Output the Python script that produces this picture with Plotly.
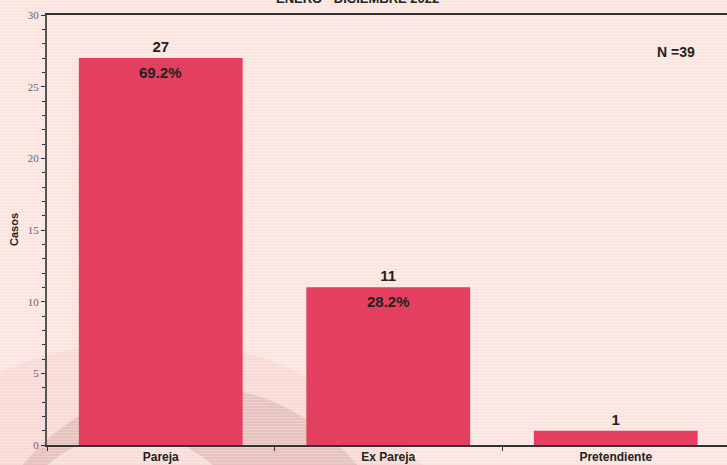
import plotly.graph_objects as go

categories = ["Pareja", "Ex Pareja", "Pretendiente"]
casos = [27, 11, 1]
porcentajes = ["69.2%", "28.2%", ""]
total_n = 39
titulo = "ENERO - DICIEMBRE 2022"

W, H = 727, 465
L, R, T, B = 47, 0, 15, 20
PW, PH = W - L - R, H - T - B


def px(x):
    return (x - L) / PW


def py(y):
    return (H - B - y) / PH


fig = go.Figure()

shapes = []


def circle(cx, cy, r, color):
    return dict(type="circle", xref="paper", yref="paper",
                x0=px(cx - r), x1=px(cx + r), y0=py(cy + r), y1=py(cy - r),
                fillcolor=color, line=dict(width=0), layer="below")


shapes.append(circle(150, 700, 360, "#f8d9d3"))
shapes.append(circle(190, 600, 215, "#e6c0bc"))
shapes.append(circle(130, 560, 126, "#f8dcd7"))
for i in range(0, 160):
    y0 = i * 3
    shapes.append(dict(type="rect", xref="paper", yref="paper",
                       x0=px(0), x1=px(W), y0=py(y0), y1=py(y0 + 1.3),
                       fillcolor="rgba(255,255,255,0.28)", line=dict(width=0), layer="below"))

fig.add_trace(go.Bar(
    x=categories, y=casos, width=0.72,
    marker=dict(color="#e3405f", line=dict(width=0)),
    text=[str(v) for v in casos], textposition="outside",
    texttemplate="<b>%{text}</b>",
    textfont=dict(family="Arial", size=15, color="#222222"),
    cliponaxis=False, hoverinfo="skip",
))

annotations = []
for c, v, p in zip(categories, casos, porcentajes):
    if p:
        annotations.append(dict(x=c, y=v, xref="x", yref="y", text="<b>" + p + "</b>",
                                showarrow=False, yanchor="top", yshift=-4,
                                font=dict(family="Arial", size=15, color="#222222")))
annotations.append(dict(x=px(676), y=py(52), xref="paper", yref="paper",
                        xanchor="center", yanchor="middle",
                        text="<b>N =%d</b>" % total_n, showarrow=False,
                        font=dict(family="Arial", size=14, color="#222222")))
annotations.append(dict(x=px(357), y=py(-1), xref="paper", yref="paper",
                        xanchor="center", yanchor="middle",
                        text="<b>" + titulo + "</b>", showarrow=False,
                        font=dict(family="Arial", size=13, color="#222222")))
annotations.append(dict(x=px(14), y=py(230), xref="paper", yref="paper", textangle=-90,
                        xanchor="center", yanchor="middle",
                        text="<b>Casos</b>", showarrow=False,
                        font=dict(family="Arial", size=11, color="#222222")))

fig.update_layout(
    width=W, height=H,
    margin=dict(l=L, r=R, t=T, b=B),
    paper_bgcolor="#fbe3de",
    plot_bgcolor="rgba(0,0,0,0)",
    showlegend=False,
    shapes=shapes,
    annotations=annotations,
    xaxis=dict(showline=True, linecolor="#333333", linewidth=2, mirror=True,
               ticks="outside", tickson="boundaries", ticklen=4, tickcolor="#333333",
               tickfont=dict(family="Arial", size=12, color="#222222"),
               tickprefix="<b>", ticksuffix="</b>", automargin=False,
               showgrid=False, range=[-0.5, 2.489]),
    yaxis=dict(range=[0, 30], dtick=5, showline=True, linecolor="#555555", linewidth=2,
               ticks="outside", ticklen=4, tickcolor="#333333", showgrid=False,
               zeroline=False, automargin=False,
               tickfont=dict(family="Liberation Serif", size=11, color="#666666"),
               minor=dict(dtick=1, ticks="outside", ticklen=3, tickcolor="#333333")),
)

fig.write_html("out.html", config={"displayModeBar": False},
               post_script="document.body.style.margin='0';document.body.style.overflow='hidden';")
